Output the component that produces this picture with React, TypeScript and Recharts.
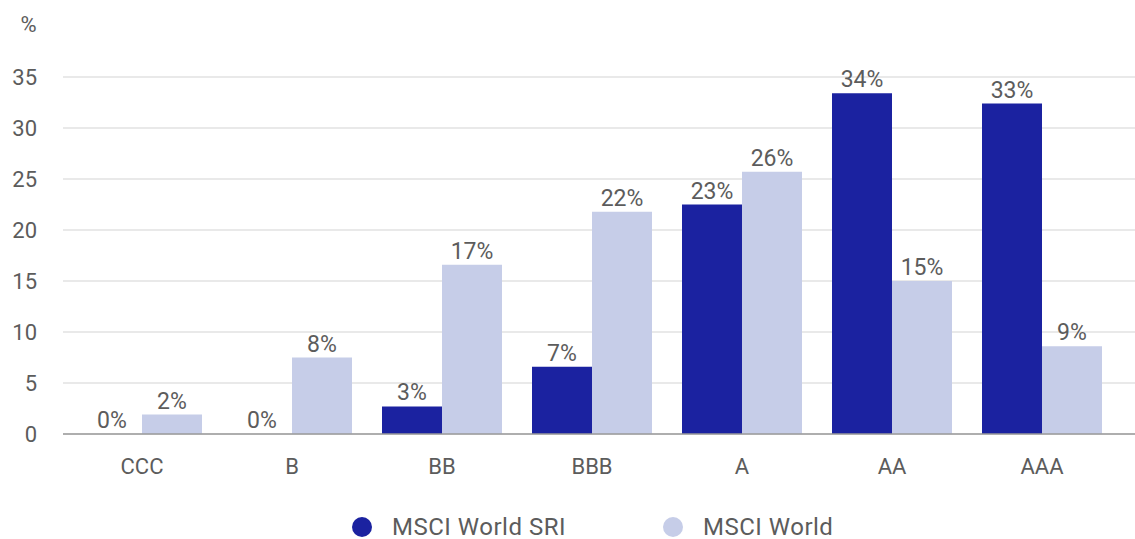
import React from 'react';
import { BarChart, Bar, XAxis, YAxis, CartesianGrid, LabelList } from 'recharts';

const categories = ['CCC', 'B', 'BB', 'BBB', 'A', 'AA', 'AAA'];
const sriValues = [0, 0, 2.7, 6.6, 22.5, 33.4, 32.4];
const worldValues = [1.9, 7.5, 16.6, 21.8, 25.7, 15.0, 8.6];
const sriLabels = ['0%', '0%', '3%', '7%', '23%', '34%', '33%'];
const worldLabels = ['2%', '8%', '17%', '22%', '26%', '15%', '9%'];
const yTicks = [0, 5, 10, 15, 20, 25, 30, 35];

const DARK = '#1b22a0';
const LIGHT = '#c6cde8';
const TEXT = '#5c5c5c';
const FONT = 'Roboto, "Noto Sans", sans-serif';

const series = [
  { key: 'sri', labelKey: 'sriLabel', name: 'MSCI World SRI', color: DARK },
  { key: 'world', labelKey: 'worldLabel', name: 'MSCI World', color: LIGHT },
];

const data = categories.map((c, i) => ({
  category: c,
  sri: sriValues[i],
  world: worldValues[i],
  sriLabel: sriLabels[i],
  worldLabel: worldLabels[i],
}));

function LegendBox() {
  return (
    <div
      style={{
        position: 'absolute',
        top: 512,
        left: 352,
        height: 30,
        display: 'flex',
        alignItems: 'center',
        fontFamily: FONT,
        fontSize: 24,
        letterSpacing: 0.5,
        color: TEXT,
        whiteSpace: 'nowrap',
      }}
    >
      {series.map((s, i) => (
        <div key={s.key} style={{ display: 'flex', alignItems: 'center', marginRight: i === 0 ? 97 : 0 }}>
          <span
            style={{
              display: 'inline-block',
              width: 20,
              height: 20,
              borderRadius: '50%',
              background: s.color,
              marginRight: 20,
            }}
          />
          <span>{s.name}</span>
        </div>
      ))}
    </div>
  );
}

export default function App() {
  return (
    <div style={{ position: 'absolute', left: 0, top: 0, width: 1135, height: 539, background: '#fff' }}>
      <BarChart
        width={1135}
        height={539}
        data={data}
        margin={{ top: 77, right: 0, bottom: 0, left: 0 }}
        barCategoryGap={15}
        barGap={0}
      >
        <CartesianGrid vertical={false} stroke="#e2e2e2" strokeWidth={1.5} />
        <XAxis
          dataKey="category"
          padding={{ left: 4, right: 18 }}
          tickLine={false}
          tickSize={0}
          tickMargin={24}
          axisLine={{ stroke: '#9a9a9a', strokeWidth: 1.5 }}
          tick={{ fill: TEXT, fontSize: 22, fontFamily: FONT }}
          height={105}
        />
        <YAxis
          width={63}
          domain={[0, 35]}
          ticks={yTicks}
          interval={0}
          tickLine={false}
          axisLine={false}
          tickSize={0}
          tickMargin={26}
          tick={{ fill: TEXT, fontSize: 22, fontFamily: FONT }}
          label={{
            value: '%',
            position: 'top',
            offset: 45,
            dx: -3,
            fill: TEXT,
            fontSize: 22,
            fontFamily: FONT,
          }}
        />
        {series.map((s) => (
          <Bar
            key={s.key}
            dataKey={s.key}
            name={s.name}
            fill={s.color}
            minPointSize={0.01}
            isAnimationActive={false}
          >
            <LabelList
              dataKey={s.labelKey}
              position="top"
              offset={6}
              fill={TEXT}
              fontSize={23}
              fontFamily={FONT}
            />
          </Bar>
        ))}
      </BarChart>
      <LegendBox />
    </div>
  );
}
